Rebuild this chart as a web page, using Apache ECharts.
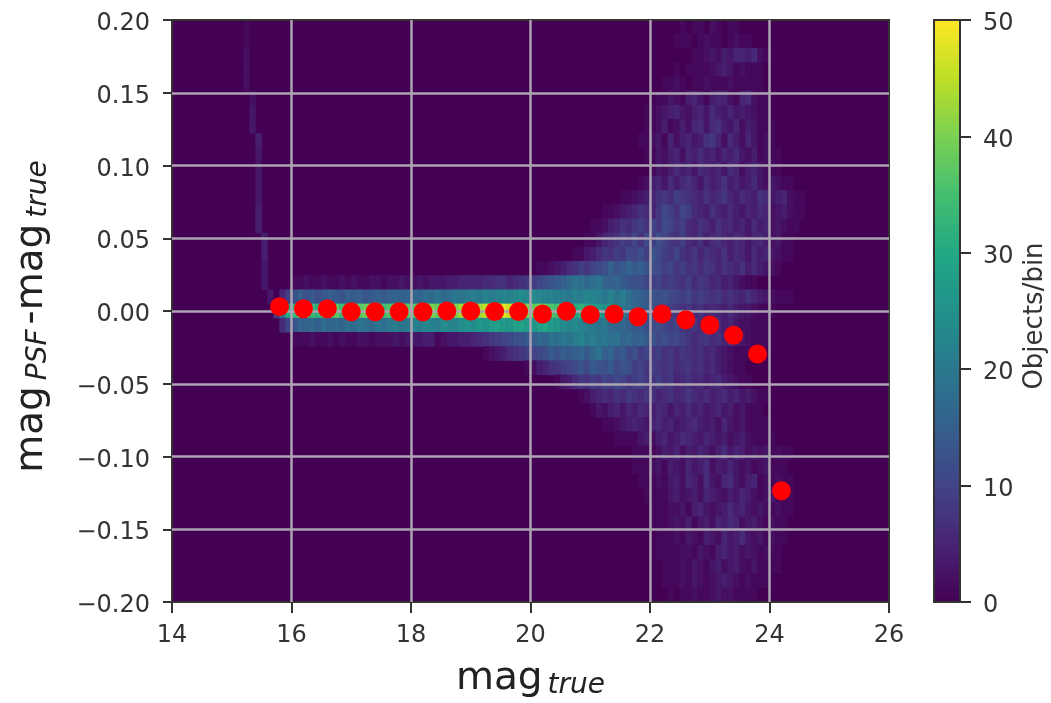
<!DOCTYPE html>
<html>
<head>
<meta charset="utf-8">
<style>html,body{margin:0;padding:0;background:#fff}#c{width:1051px;height:703px;filter:blur(0.7px)}</style>
<script src="https://cdn.jsdelivr.net/npm/echarts@6/dist/echarts.min.js"></script>
</head>
<body>
<div id="c"></div>
<script>
const meanMag = [15.8,16.2,16.6,17.0,17.4,17.8,18.2,18.6,19.0,19.4,19.8,20.2,20.6,21.0,21.4,21.8,22.2,22.6,23.0,23.4,23.8,24.2];
const meanOffset = [0.003,0.0015,0.0015,-0.0005,-0.0005,-0.0005,-0.0005,0,0,-0.0003,-0.0003,-0.002,-0.0002,-0.0025,-0.002,-0.004,-0.002,-0.006,-0.0096,-0.0167,-0.0295,-0.1235];
const xTicks = [14,16,18,20,22,24,26];
const yTicks = [-0.2,-0.15,-0.1,-0.05,0,0.05,0.1,0.15,0.2];
const barTicks = [0,10,20,30,40,50];
const viridis = ['#440154','#482475','#414487','#355f8d','#2a788e','#21918c','#22a884','#44bf70','#7ad151','#bddf26','#fde725'];

// Histogram rows, top to bottom; the middle row is centred on zero; cells are 0.1 mag wide.
const rowStart = [22.5,22.4,22.7,22.3,22.2,22.0,21.9,21.9,21.8,21.9,22.0,21.8,21.5,21.2,21.0,20.9,20.7,20.1,16.0,15.8,15.7,
                  15.8,16.0,19.2,19.9,20.4,20.8,21.0,21.2,21.4,21.7,21.7,21.8,21.9,22.0,22.0,22.1,22.1,22.2,22.2,22.3];
const rowCounts = [
[1,0,1,1,0,2,1,0,1,1],
[1,1,1,0,1,2,1,1,0,1,2,1,1],
[1,1,2,3,2,4,3,5,5,4,6,2,1],
[0,1,0,1,1,1,1,2,3,4,3,1,2,1,1,1],
[1,1,2,1,0,1,1,2,1,1,1,2,1,1,1,1,1],
[0,1,1,3,2,1,4,5,3,1,4,5,5,2,1,5,6,2,1,1],
[1,1,2,3,4,5,3,2,4,5,3,6,4,3,5,3,4,3,2,1,1],
[1,1,2,4,1,2,4,2,5,6,3,6,7,4,3,5,2,4,3,1,1,1],
[1,1,2,3,1,5,2,4,5,3,4,7,8,5,2,6,4,2,5,3,1,2,1],
[1,1,3,2,4,5,2,5,4,6,4,5,3,5,4,6,3,2,4,1,2,1,1],
[1,3,2,4,6,4,5,3,6,5,4,5,3,6,5,2,4,5,3,2,1,1],
[1,2,4,5,3,6,4,6,7,5,3,6,4,5,7,4,5,3,4,6,3,2,3,2,1,1],
[1,1,2,3,4,5,7,8,6,9,8,7,6,5,7,5,6,8,5,4,6,5,4,7,6,3,4,5,2,1,1],
[1,1,2,3,4,5,7,6,5,8,11,9,7,10,9,6,5,4,7,5,4,6,4,3,5,4,6,5,2,3,4,2,1,1],
[1,1,2,4,5,7,6,8,9,7,10,8,11,10,8,9,6,5,7,6,4,7,5,6,4,5,3,6,4,5,2,3,2,1,1],
[1,1,3,5,6,7,9,8,10,7,11,9,12,10,8,7,9,6,5,7,4,6,7,5,4,6,5,3,5,6,4,2,3,1,1],
[1,1,3,4,6,8,7,9,8,11,10,12,9,13,11,9,8,10,7,6,8,5,7,6,5,7,4,6,5,3,6,4,5,3,2,1,1],
[1,1,2,3,4,6,7,9,8,10,11,12,15,13,14,16,14,15,13,12,11,9,10,8,9,7,8,6,8,7,5,7,6,5,7,4,6,4,3,2,1],
[1,1,2,1,1,2,1,1,2,1,2,1,1,2,2,1,2,2,3,2,2,3,2,3,3,3,4,4,5,5,5,5,6,6,7,7,5,6,7,8,9,10,12,13,14,15,17,19,18,17,18,19,16,15,16,14,13,12,12,10,9,10,8,9,8,7,9,6,8,7,5,6,4,5,3,2,1,1],
[5,9,12,15,13,14,12,14,15,14,13,15,14,15,13,14,15,14,15,16,15,16,17,16,18,17,19,17,18,20,19,20,21,20,22,21,22,23,22,23,24,23,24,23,22,22,21,21,20,22,21,23,22,21,20,22,19,21,18,16,15,14,13,12,13,11,10,9,10,8,9,8,7,8,6,7,6,5,7,5,4,3,2,1,1,1],
[8,20,30,33,36,35,33,32,35,36,37,34,32,35,37,39,38,36,34,36,38,39,37,36,38,41,40,38,41,42,40,43,44,42,43,45,46,47,48,46,44,42,40,38,40,38,36,35,36,33,30,32,29,28,27,25,24,22,20,18,17,15,14,12,11,10,9,8,7,8,6,7,5,6,5,4,6,4,3,3,2,1,1,1],
[6,10,13,16,16,17,15,18,16,17,16,18,17,19,18,17,19,18,20,21,19,20,22,21,23,22,21,24,23,22,24,25,24,26,25,27,28,27,26,28,29,27,26,28,30,27,26,24,23,24,22,21,20,19,20,17,16,17,15,14,14,12,11,12,10,9,10,8,7,8,6,7,5,6,4,5,3,2,2,1,1,1],
[1,1,1,2,1,1,2,1,2,1,1,2,2,1,2,2,2,3,2,3,3,3,4,4,1,2,3,3,4,4,5,6,7,8,9,10,11,12,13,14,15,17,16,19,18,20,19,21,22,20,21,19,20,18,19,16,17,15,16,14,13,11,12,10,11,9,8,6,7,8,6,7,5,6,4,3,2,1,1,1],
[1,2,3,4,6,7,8,9,10,11,12,14,13,15,14,15,16,14,17,19,15,16,13,14,11,12,9,10,8,9,7,8,6,8,7,6,7,5,6,4,3,2,1,1,1],
[1,2,4,5,7,8,9,10,11,13,11,14,13,12,14,11,13,12,9,10,8,9,8,7,8,6,7,8,6,7,5,6,4,3,2,1,1],
[1,3,4,6,8,7,9,8,10,9,11,10,8,9,10,8,7,9,7,8,5,6,7,5,6,4,5,6,4,3,2,1,1],
[1,2,4,5,6,5,7,6,8,7,6,8,7,5,6,7,5,6,8,6,5,6,4,5,6,4,5,3,4,2,1,1],
[1,3,2,4,5,3,5,4,6,5,4,6,5,3,5,4,6,4,5,3,4,5,3,4,2,3,1,1,1],
[1,1,2,3,4,5,4,3,5,6,4,5,3,4,5,6,4,3,4,2,5,3,2,3,1,1,1,1],
[1,1,1,1,3,4,2,4,5,3,4,6,5,4,3,5,4,3,4,2,3,4,2,1,1,1,1],
[1,1,1,1,2,4,3,5,2,4,3,5,4,2,4,6,3,5,4,2,3,2,3,1,2,1,1],
[1,1,1,2,3,1,4,3,2,5,3,4,6,2,4,3,5,3,2,3,1,2,3,1,1,1],
[1,1,1,2,1,3,4,2,5,4,2,6,3,2,5,6,3,2,4,5,1,2,1,2,1,1],
[1,1,1,1,3,4,2,3,4,2,5,4,3,2,4,3,5,4,2,1,2,3,1,1,1],
[1,1,1,2,2,3,1,4,5,3,2,3,4,6,4,5,3,2,3,2,1,2,1,1],
[1,1,1,2,3,2,4,1,3,4,2,5,4,6,5,2,3,4,2,1,2,1,1],
[1,1,1,2,1,3,2,1,4,3,2,5,3,4,6,3,2,3,1,2,1,1],
[1,1,1,1,2,2,1,3,2,1,4,5,3,4,2,3,2,1,2,1,1],
[1,1,1,2,1,3,2,1,3,4,2,3,4,2,1,3,1,1,1,1],
[1,1,1,2,1,3,2,1,2,3,4,3,2,1,2,1,1,1],
[1,0,1,1,2,1,1,2,3,2,2,1,1,1,1]
];
// Thin stellar locus at the bright end: one cell per row, from the top row down to just above zero.
const locusMag = [15.2,15.2,15.2,15.2,15.2,15.3,15.3,15.3,15.4,15.4,15.4,15.4,15.4,15.4,15.4,15.5,15.5,15.5,15.5,15.6];
const locusCount = [1,1,2,2,2,2,3,3,4,3,3,3,3,4,4,4,4,3,3,3];

const xBins = Array.from({length:120},(_,i)=>(14+i*0.1).toFixed(1));
const yBins = Array.from({length:41},(_,i)=>((i-20)*0.4/41).toFixed(4));
const cells = [];
rowCounts.forEach((vals,r)=>{
  const yi = 40-r;
  const x0 = Math.round((rowStart[r]-14)*10);
  vals.forEach((v,k)=>{ if(v>0) cells.push([x0+k,yi,v]); });
});
locusMag.forEach((m,r)=>cells.push([Math.round((m-14)*10),40-r,locusCount[r]]));

const ink = '#333333';
const minus = s => s.replace('-','\u2212');
const tickLabel = {color:ink,fontFamily:'DejaVu Sans',fontSize:24};
const lowered = {a:Object.assign({},tickLabel,{padding:[8,0,0,0]})};
const tickOf = n => ({show:true,length:n,lineStyle:{color:ink,width:2}});
const gridLine = {show:true,showMinLine:false,showMaxLine:false,lineStyle:{color:'#ada3b3',width:2.5}};
const mainText = {fontFamily:'DejaVu Sans',fontSize:39,color:'#222'};
const subText = {fontFamily:'DejaVu Sans',fontSize:28,fontStyle:'italic',color:'#222'};
const xRich = {m:mainText,s:Object.assign({},subText,{padding:[14,0,0,5]})};
const yRich = {m:mainText,s:Object.assign({},subText,{padding:[14,5,0,6]})};
const plot = {left:172,top:20,width:717,height:582,outerBoundsMode:'none'};

const chart = echarts.init(document.getElementById('c'),null,{renderer:'canvas'});
chart.setOption({
  animation:false,
  backgroundColor:'#fff',
  grid:[
    Object.assign({show:true,backgroundColor:'#440154',borderWidth:0,z:0},plot),
    Object.assign({show:true,backgroundColor:'transparent',borderColor:ink,borderWidth:2,z:10},plot),
    {left:934,top:20,width:26,height:582,outerBoundsMode:'none',show:true,backgroundColor:'transparent',borderColor:ink,borderWidth:2,z:10}
  ],
  xAxis:[
    {type:'category',gridIndex:0,data:xBins,show:false},
    {type:'value',gridIndex:1,min:14,max:26,interval:2,z:11,
     axisLine:{show:false,onZero:false},axisTick:tickOf(11),splitLine:gridLine,
     axisLabel:Object.assign({},tickLabel,{margin:22,formatter:v=>xTicks.includes(v)?String(v):''}),
     name:'{m|mag}{s|true}',nameLocation:'middle',nameGap:56,nameMoveOverlap:false,nameTextStyle:{rich:xRich}},
    {type:'value',gridIndex:2,min:0,max:1,show:false}
  ],
  yAxis:[
    {type:'category',gridIndex:0,data:yBins,show:false},
    {type:'value',gridIndex:1,min:-0.2,max:0.2,interval:0.05,z:11,
     axisLine:{show:false,onZero:false},axisTick:tickOf(9),splitLine:gridLine,
     axisLabel:{margin:22,rich:lowered,formatter:v=>'{a|'+minus(yTicks[Math.round((v+0.2)/0.05)].toFixed(2))+'}'},
     name:'{m|mag}{s|PSF}{m|-mag}{s|true}',nameLocation:'middle',nameGap:119,nameMoveOverlap:false,nameTextStyle:{rich:yRich,padding:[0,6,0,0]}},
    {type:'value',gridIndex:2,min:0,max:50,interval:10,position:'right',z:11,
     axisLine:{show:false,onZero:false},axisTick:tickOf(11),splitLine:{show:false},
     axisLabel:{margin:23,rich:lowered,formatter:v=>barTicks.includes(v)?'{a|'+v+'}':''},
     name:'Objects/bin',nameLocation:'middle',nameGap:62,nameRotate:90,nameMoveOverlap:false,
     nameTextStyle:{color:ink,fontFamily:'DejaVu Sans',fontSize:26,padding:[0,10,0,0]}}
  ],
  visualMap:{
    type:'continuous',show:true,seriesIndex:0,min:0,max:50,calculable:false,hoverLink:false,
    left:934,top:20,itemWidth:26,itemHeight:582,padding:0,text:null,showLabel:false,
    inRange:{color:viridis}
  },
  series:[
    {type:'heatmap',xAxisIndex:0,yAxisIndex:0,data:cells,z:2,silent:true,progressive:0},
    {type:'scatter',xAxisIndex:1,yAxisIndex:1,z:12,symbol:'circle',symbolSize:19,silent:true,
     itemStyle:{color:'#ff0000',opacity:1},data:meanMag.map((m,i)=>[m,meanOffset[i]])}
  ]
});
</script>
</body>
</html>
